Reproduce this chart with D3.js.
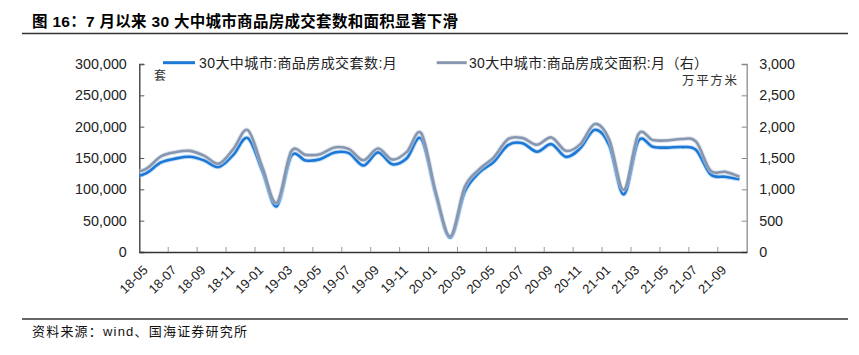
<!DOCTYPE html>
<html><head><meta charset="utf-8">
<script src="https://cdn.jsdelivr.net/npm/d3@7"></script>
<style>body{margin:0;background:#fff}svg{display:block}</style>
</head><body><svg id="c" width="859" height="355"></svg>
<script>
const months = ["18-05","18-06","18-07","18-08","18-09","18-10","18-11","18-12",
"19-01","19-02","19-03","19-04","19-05","19-06","19-07","19-08","19-09","19-10","19-11","19-12",
"20-01","20-02","20-03","20-04","20-05","20-06","20-07","20-08","20-09","20-10","20-11","20-12",
"21-01","21-02","21-03","21-04","21-05","21-06","21-07","21-08","21-09","21-10"];
// month before the axis start (clipped at the left edge)
const prevUnits = 119000;
const prevArea = 1262;
const units = [126000,143000,149000,152000,146000,135700,155000,181800,
130000,73000,153000,146000,148000,158700,157700,138000,159000,140000,149600,180700,
92000,23000,96000,126600,143700,170500,173700,160000,172000,151800,165700,195000,
170000,92000,177000,168000,166500,167500,162800,124000,120000,116000];
const area = [1330,1525,1593,1614,1534,1410,1641,1946,
1360,783,1603,1550,1560,1668,1641,1464,1652,1475,1598,1893,
950,250,1035,1319,1507,1802,1818,1711,1828,1614,1721,2043,
1790,990,1875,1787,1780,1803,1760,1297,1280,1202];
const leftTicks = [0,50000,100000,150000,200000,250000,300000];
const rightTicks = [0,500,1000,1500,2000,2500,3000];
const labelMonths = months.filter((m,i)=>i%2===0);

const title = "图 16：7 月以来 30 大中城市商品房成交套数和面积显著下滑";
const legendNames = ["30大中城市:商品房成交套数:月","30大中城市:商品房成交面积:月（右）"];
const source = "资料来源：wind、国海证券研究所";

const L=139.3, R=746.7, T=64, B=252;
const svg = d3.select("#c");
const num = "'Liberation Sans', Arial, sans-serif";
const cjk = "'Liberation Sans','Noto Sans CJK SC', sans-serif";

const x = d3.scaleBand().domain(months).range([L,R]).padding(0);
const bw = x.bandwidth();
const yL = d3.scaleLinear().domain([0,300000]).range([B,T]);
const yR = d3.scaleLinear().domain([0,3000]).range([B,T]);

// title & rules
svg.append("text").attr("x",32).attr("y",27).attr("font-family",cjk).attr("font-weight","bold")
  .attr("font-size",15.5).attr("fill","#000").attr("textLength",426).attr("lengthAdjust","spacing").text(title);
svg.append("line").attr("x1",22).attr("x2",848).attr("y1",33.5).attr("y2",33.5).attr("stroke","#333").attr("stroke-width",1.5);
svg.append("line").attr("x1",22).attr("x2",848).attr("y1",319).attr("y2",319).attr("stroke","#333").attr("stroke-width",1.5);
svg.append("text").attr("x",32).attr("y",336).attr("font-family",cjk).attr("font-size",13)
  .attr("fill","#111").attr("textLength",215).attr("lengthAdjust","spacing").text(source);

// axes
const gL = svg.append("g").attr("transform",`translate(${L},0)`)
  .call(d3.axisLeft(yL).tickValues(leftTicks).tickSize(-5).tickPadding(12.5).tickFormat(d3.format(",")));
const gR = svg.append("g").attr("transform",`translate(${R},0)`)
  .call(d3.axisRight(yR).tickValues(rightTicks).tickSize(-5).tickPadding(12.5).tickFormat(d3.format(",")));
[gL,gR].forEach(g=>{
  g.selectAll("text").attr("font-family",num).attr("font-size",14.3).attr("fill","#222");
  g.selectAll(".tick line").attr("stroke","#555");
});
gL.select(".domain").attr("stroke","#333").attr("stroke-width",1.3);
gR.select(".domain").attr("stroke","#8c8c8c").attr("stroke-width",1.3);
gR.selectAll(".tick line").attr("stroke","#888");

const gX = svg.append("g").attr("transform",`translate(0,${B})`)
  .call(d3.axisBottom(x).tickValues(labelMonths).tickSize(0).tickSizeOuter(0));
gX.select(".domain").attr("stroke","#333").attr("stroke-width",1.3);
gX.selectAll(".tick text").attr("font-family",num).attr("font-size",13).attr("fill","#222")
  .attr("text-anchor","end").attr("dy",null).attr("y",null)
  .attr("transform","translate(2,19) rotate(-45)");
// tick marks between every second month (category boundaries)
svg.append("g").selectAll("line").data(labelMonths.slice(1)).join("line")
  .attr("x1",d=>x(d)).attr("x2",d=>x(d)).attr("y1",B).attr("y2",B-5)
  .attr("stroke","#999").attr("stroke-width",1);

// clip
svg.append("clipPath").attr("id","clp").append("rect").attr("x",L).attr("y",T-10).attr("width",R-L).attr("height",B-T+10);

function pts(vals, prev, y){
  const p = [[x(months[0])-bw/2, y(prev)]];
  vals.forEach((v,i)=>p.push([x(months[i])+bw/2, y(v)]));
  return p;
}
const line = d3.line().curve(d3.curveCardinal.tension(0));
const gLines = svg.append("g").attr("clip-path","url(#clp)");
const series = [
  {p:pts(units,prevUnits,yL), c:"#1b78d6", h:"#9cc6ee"},
  {p:pts(area,prevArea,yR), c:"#8797b0", h:"#c9d2de"}
];
series.forEach(s=>{
  gLines.append("path").attr("d",line(s.p)).attr("fill","none").attr("stroke",s.h).attr("stroke-width",4.5).attr("stroke-opacity",0.6);
  gLines.append("path").attr("d",line(s.p)).attr("fill","none").attr("stroke",s.c).attr("stroke-width",2.6).attr("stroke-linejoin","round");
});

// legend
const leg = [{x1:163,x2:195,tx:199,w:197.7,c:"#1b78d6"},{x1:436.7,x2:466.7,tx:469,w:239,c:"#8797b0"}];
leg.forEach((l,i)=>{
  svg.append("line").attr("x1",l.x1).attr("x2",l.x2).attr("y1",62.7).attr("y2",62.7).attr("stroke",l.c).attr("stroke-width",3);
  svg.append("text").attr("x",l.tx).attr("y",67.5).attr("font-family",cjk).attr("font-size",14)
    .attr("fill","#222").attr("textLength",l.w).attr("lengthAdjust","spacing").text(legendNames[i]);
});
svg.append("text").attr("x",160).attr("y",79.5).attr("text-anchor","middle").attr("font-family",cjk).attr("font-size",12).attr("fill","#333").text("套");
svg.append("text").attr("x",682).attr("y",84.5).attr("font-family",cjk).attr("font-size",12.5).attr("fill","#333")
  .attr("textLength",55).attr("lengthAdjust","spacing").text("万平方米");
</script></body></html>
